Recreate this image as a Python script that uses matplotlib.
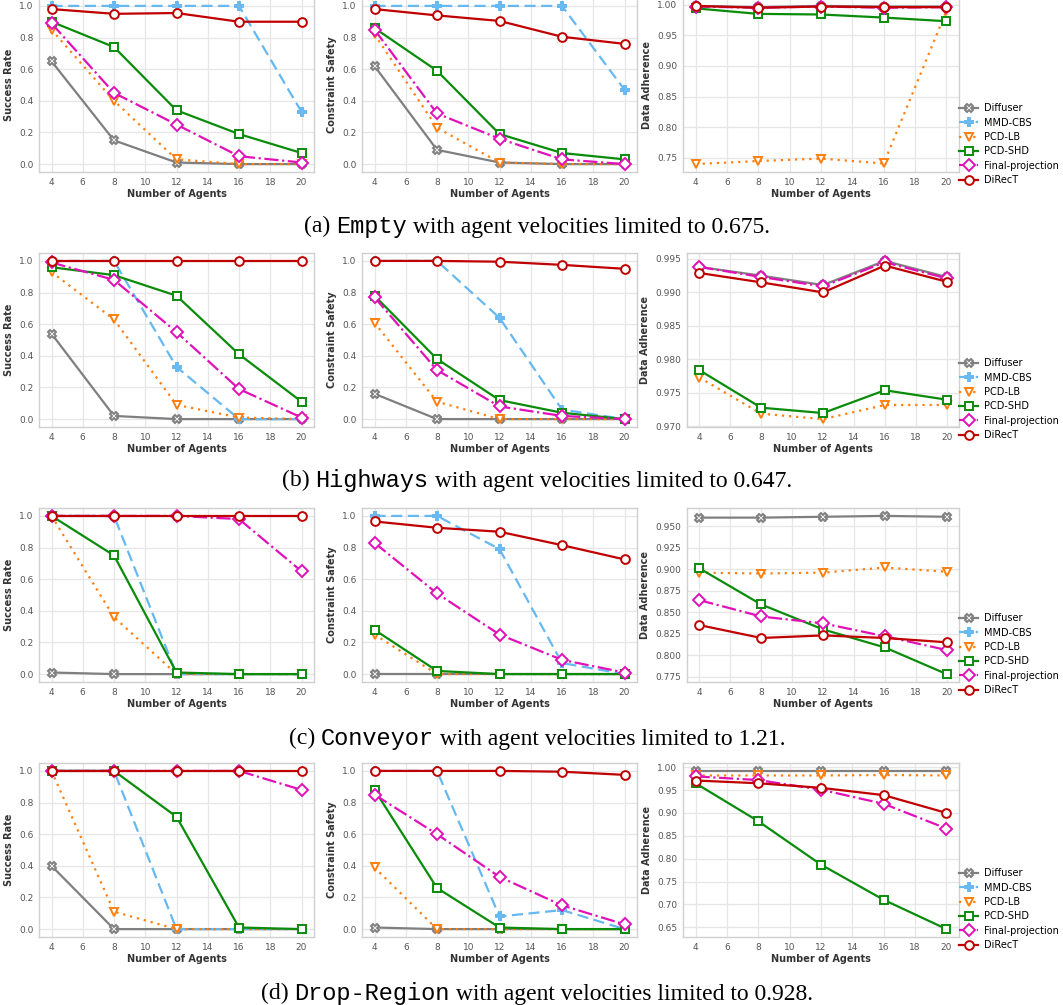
import numpy as np
import matplotlib
matplotlib.use("Agg")
import matplotlib.pyplot as plt
from matplotlib.offsetbox import TextArea, HPacker, AnchoredOffsetbox

agents = [4, 8, 12, 16, 20]
methods = ['Diffuser', 'MMD-CBS', 'PCD-LB', 'PCD-SHD', 'Final-projection', 'DiRecT']
nan = np.nan

# (a) Empty
empty_success = {
    'Diffuser': [0.65, 0.15, 0.01, 0.0, 0.0],
    'MMD-CBS': [1.0, 1.0, 1.0, 1.0, 0.33],
    'PCD-LB': [0.85, 0.40, 0.03, 0.0, 0.0],
    'PCD-SHD': [0.90, 0.74, 0.34, 0.19, 0.07],
    'Final-projection': [0.89, 0.45, 0.25, 0.05, 0.01],
    'DiRecT': [0.98, 0.95, 0.955, 0.90, 0.90],
}
empty_safety = {
    'Diffuser': [0.62, 0.09, 0.01, 0.0, 0.0],
    'MMD-CBS': [1.0, 1.0, 1.0, 1.0, 0.47],
    'PCD-LB': [0.82, 0.23, 0.01, 0.0, 0.0],
    'PCD-SHD': [0.86, 0.59, 0.19, 0.07, 0.03],
    'Final-projection': [0.85, 0.32, 0.16, 0.03, 0.0],
    'DiRecT': [0.98, 0.94, 0.905, 0.805, 0.76],
}
empty_adherence = {
    'Diffuser': [0.998, 0.996, 0.998, 0.997, 0.997],
    'MMD-CBS': [nan, nan, nan, nan, nan],
    'PCD-LB': [0.740, 0.745, 0.749, 0.741, 0.990],
    'PCD-SHD': [0.994, 0.985, 0.984, 0.979, 0.973],
    'Final-projection': [0.997, 0.995, 0.997, 0.995, 0.996],
    'DiRecT': [0.998, 0.995, 0.997, 0.996, 0.996],
}

# (b) Highways
highways_success = {
    'Diffuser': [0.54, 0.02, 0.0, 0.0, 0.0],
    'MMD-CBS': [1.0, 1.0, 0.33, 0.0, 0.0],
    'PCD-LB': [0.93, 0.63, 0.09, 0.01, 0.0],
    'PCD-SHD': [0.96, 0.91, 0.78, 0.41, 0.11],
    'Final-projection': [0.99, 0.88, 0.55, 0.19, 0.01],
    'DiRecT': [1.0, 1.0, 1.0, 1.0, 1.0],
}
highways_safety = {
    'Diffuser': [0.16, 0.0, 0.0, 0.0, 0.0],
    'MMD-CBS': [1.0, 1.0, 0.64, 0.06, 0.0],
    'PCD-LB': [0.61, 0.11, 0.0, 0.0, 0.0],
    'PCD-SHD': [0.78, 0.38, 0.12, 0.04, 0.0],
    'Final-projection': [0.77, 0.31, 0.08, 0.02, 0.0],
    'DiRecT': [1.0, 1.0, 0.995, 0.975, 0.95],
}
highways_adherence = {
    'Diffuser': [0.9938, 0.9925, 0.9911, 0.9947, 0.9923],
    'MMD-CBS': [nan, nan, nan, nan, nan],
    'PCD-LB': [0.9773, 0.9719, 0.9711, 0.9732, 0.9732],
    'PCD-SHD': [0.9784, 0.9728, 0.9720, 0.9754, 0.9740],
    'Final-projection': [0.9938, 0.9923, 0.9909, 0.9945, 0.9921],
    'DiRecT': [0.9929, 0.9915, 0.9900, 0.9940, 0.9916],
}

# (c) Conveyor
conveyor_success = {
    'Diffuser': [0.01, 0.0, 0.0, 0.0, 0.0],
    'MMD-CBS': [1.0, 1.0, 0.0, 0.0, 0.0],
    'PCD-LB': [1.0, 0.36, 0.0, 0.0, 0.0],
    'PCD-SHD': [1.0, 0.75, 0.01, 0.0, 0.0],
    'Final-projection': [1.0, 1.0, 1.0, 0.98, 0.65],
    'DiRecT': [1.0, 1.0, 1.0, 1.0, 1.0],
}
conveyor_safety = {
    'Diffuser': [0.0, 0.0, 0.0, 0.0, 0.0],
    'MMD-CBS': [1.0, 1.0, 0.79, 0.07, 0.0],
    'PCD-LB': [0.25, 0.0, 0.0, 0.0, 0.0],
    'PCD-SHD': [0.28, 0.02, 0.0, 0.0, 0.0],
    'Final-projection': [0.83, 0.51, 0.25, 0.09, 0.01],
    'DiRecT': [0.965, 0.925, 0.90, 0.815, 0.725],
}
conveyor_adherence = {
    'Diffuser': [0.960, 0.960, 0.961, 0.962, 0.961],
    'MMD-CBS': [nan, nan, nan, nan, nan],
    'PCD-LB': [0.896, 0.895, 0.896, 0.902, 0.897],
    'PCD-SHD': [0.901, 0.859, 0.830, 0.809, 0.778],
    'Final-projection': [0.864, 0.845, 0.837, 0.822, 0.806],
    'DiRecT': [0.835, 0.820, 0.823, 0.820, 0.815],
}

# (d) Drop-Region
drop_success = {
    'Diffuser': [0.40, 0.0, 0.0, 0.0, 0.0],
    'MMD-CBS': [1.0, 1.0, 0.0, 0.0, 0.0],
    'PCD-LB': [1.0, 0.11, 0.0, 0.0, 0.0],
    'PCD-SHD': [1.0, 1.0, 0.71, 0.01, 0.0],
    'Final-projection': [1.0, 1.0, 1.0, 1.0, 0.88],
    'DiRecT': [1.0, 1.0, 1.0, 1.0, 1.0],
}
drop_safety = {
    'Diffuser': [0.01, 0.0, 0.0, 0.0, 0.0],
    'MMD-CBS': [1.0, 1.0, 0.08, 0.12, 0.0],
    'PCD-LB': [0.39, 0.0, 0.0, 0.0, 0.0],
    'PCD-SHD': [0.88, 0.26, 0.01, 0.0, 0.0],
    'Final-projection': [0.85, 0.60, 0.33, 0.15, 0.03],
    'DiRecT': [1.0, 1.0, 1.0, 0.995, 0.975],
}
drop_adherence = {
    'Diffuser': [0.992, 0.992, 0.992, 0.992, 0.992],
    'MMD-CBS': [nan, nan, nan, nan, nan],
    'PCD-LB': [0.982, 0.982, 0.982, 0.983, 0.982],
    'PCD-SHD': [0.965, 0.882, 0.787, 0.710, 0.646],
    'Final-projection': [0.980, 0.972, 0.951, 0.920, 0.866],
    'DiRecT': [0.971, 0.965, 0.955, 0.939, 0.900],
}

rows = [
    ('Empty', '0.675', empty_success, empty_safety, empty_adherence),
    ('Highways', '0.647', highways_success, highways_safety, highways_adherence),
    ('Conveyor', '1.21', conveyor_success, conveyor_safety, conveyor_adherence),
    ('Drop-Region', '0.928', drop_success, drop_safety, drop_adherence),
]

styles = {
    'Diffuser': dict(color='#7f7f7f', marker='X', ls='-'),
    'MMD-CBS': dict(color='#66b8f0', marker='P', ls=(0, (5, 2.5))),
    'PCD-LB': dict(color='#ff7f0e', marker='v', ls=(0, (1, 2.2))),
    'PCD-SHD': dict(color='#0a8c0a', marker='s', ls='-'),
    'Final-projection': dict(color='#e011b8', marker='D', ls='-.'),
    'DiRecT': dict(color='#c00000', marker='o', ls='-'),
}

plt.rcParams['font.family'] = 'DejaVu Sans'
W, H = 1063, 1005
fig = plt.figure(figsize=(W / 100, H / 100), dpi=100)

col_left = [39, 362, 685]
col3_left = [683, 687, 687, 683]
axw = 275
row_top = [-2, 253, 508, 763]
axh = 174
caption_y = [226, 480, 738, 993]
ylabels = ['Success Rate', 'Constraint Safety', 'Data Adherence']
letters = ['(a)', '(b)', '(c)', '(d)']

for r, (name, vel, sr, cs, da) in enumerate(rows):
    for c, data in enumerate([sr, cs, da]):
        left = col_left[c] if c < 2 else col3_left[r]
        w = axw if c < 2 else 959 - left
        ax = fig.add_axes([left / W, 1 - (row_top[r] + axh) / H, w / W, axh / H])
        ax.set_facecolor('white')
        ax.grid(True, color='#e6e6e6', lw=0.9)
        ax.set_axisbelow(True)
        for sp in ax.spines.values():
            sp.set_color('#d0d0d0')
            sp.set_linewidth(1.0)
        for m in methods:
            st = styles[m]
            ax.plot(agents, data[m], color=st['color'], ls=st['ls'], lw=1.6,
                    marker=st['marker'], markersize=6.3, markerfacecolor='white',
                    markeredgecolor=st['color'], markeredgewidth=1.4, label=m)
        ax.set_xticks([4, 6, 8, 10, 12, 14, 16, 18, 20])
        ax.tick_params(labelsize=6.5, colors='#555555', length=0, pad=4)
        ax.set_xlabel('Number of Agents', fontsize=7, fontweight='bold',
                      color='#333333', labelpad=2)
        ax.set_ylabel(ylabels[c], fontsize=7, fontweight='bold',
                      color='#333333', labelpad=4)
        if c == 2:
            ax.legend(loc='center left', bbox_to_anchor=(1.0, 0.16), frameon=False,
                      fontsize=7, handlelength=2.0, labelspacing=0.45,
                      handletextpad=0.6, borderaxespad=0.0, borderpad=0.0)

    parts = [
        TextArea(letters[r] + ' ', textprops=dict(family='Liberation Serif', size=17)),
        TextArea(name, textprops=dict(family='Liberation Mono', size=17)),
        TextArea(' with agent velocities limited to ' + vel + '.',
                 textprops=dict(family='Liberation Serif', size=17)),
    ]
    box = HPacker(children=parts, align='baseline', pad=0, sep=0)
    anchored = AnchoredOffsetbox(loc='center', child=box, frameon=False,
                                 bbox_to_anchor=(0.505, 1 - caption_y[r] / H),
                                 bbox_transform=fig.transFigure, pad=0, borderpad=0)
    fig.add_artist(anchored)

fig.savefig('out.png', dpi=100, facecolor='white')
